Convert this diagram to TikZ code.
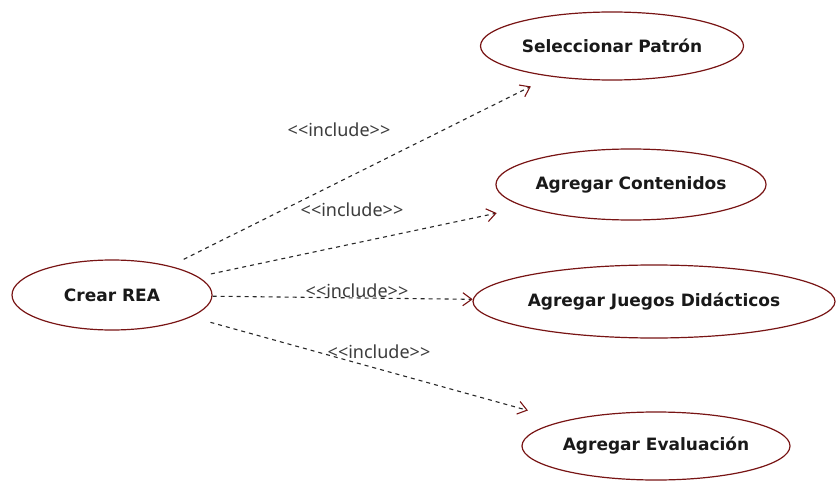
\documentclass[tikz,border=0pt]{standalone}
\usepackage{fontspec}
\usetikzlibrary{arrows.meta,shapes.geometric}
\newfontfamily\ucfont{DejaVu Sans}
\newfontfamily\incfont{Noto Sans}
\definecolor{ucred}{RGB}{120,20,20}
\definecolor{dashgray}{RGB}{40,40,40}
\definecolor{labgray}{RGB}{60,60,60}
\tikzset{
  usecase/.style={ellipse, draw=ucred, line width=1.2pt, inner sep=0pt, fill=white,
    font=\ucfont\bfseries\fontsize{17}{20}\selectfont, text=black!90},
  incl/.style={draw=dashgray, line width=1.1pt, dash pattern=on 4pt off 4pt,
    -{Straight Barb[length=9pt,width=13pt,line width=1.1pt,color=ucred]}},
  incllabel/.style={font=\incfont\fontsize{18}{20}\selectfont, text=labgray, inner sep=0pt}
}
\newcommand{\inclabel}{<\kern0pt<include>\kern0pt>}
\begin{document}
\begin{tikzpicture}[x=1pt,y=-1pt]
\useasboundingbox (0,0) rectangle (837,481);
\node[usecase, minimum width=200pt, minimum height=70pt] (crear) at (112,295) {Crear REA};
\node[usecase, minimum width=263pt, minimum height=68pt] (sel) at (612,46) {Seleccionar Patrón};
\node[usecase, minimum width=257pt, minimum height=71pt] (cont) at (631,184.5) {Agregar Contenidos};
\node[usecase, minimum width=362pt, minimum height=73pt] (jue) at (654,301.5) {Agregar Juegos Didácticos};
\node[usecase, minimum width=268pt, minimum height=68pt] (eva) at (656,446) {Agregar Evaluación};

\draw[incl, shorten <=15pt, shorten >=22pt] (crear) -- (sel);
\draw[incl, shorten <=13pt, shorten >=29pt] (crear) -- (cont);
\draw[incl] (crear) -- (jue);
\draw[incl, shorten <=20pt, shorten >=38pt] (crear) -- (eva);

\node[incllabel] (l1) at (339,130) {\inclabel};
\node[incllabel] (l2) at (352,210) {\inclabel};
\node[incllabel] (l3) at (357,291) {\inclabel};
\node[incllabel] (l4) at (379,352) {\inclabel};
\end{tikzpicture}
\end{document}
